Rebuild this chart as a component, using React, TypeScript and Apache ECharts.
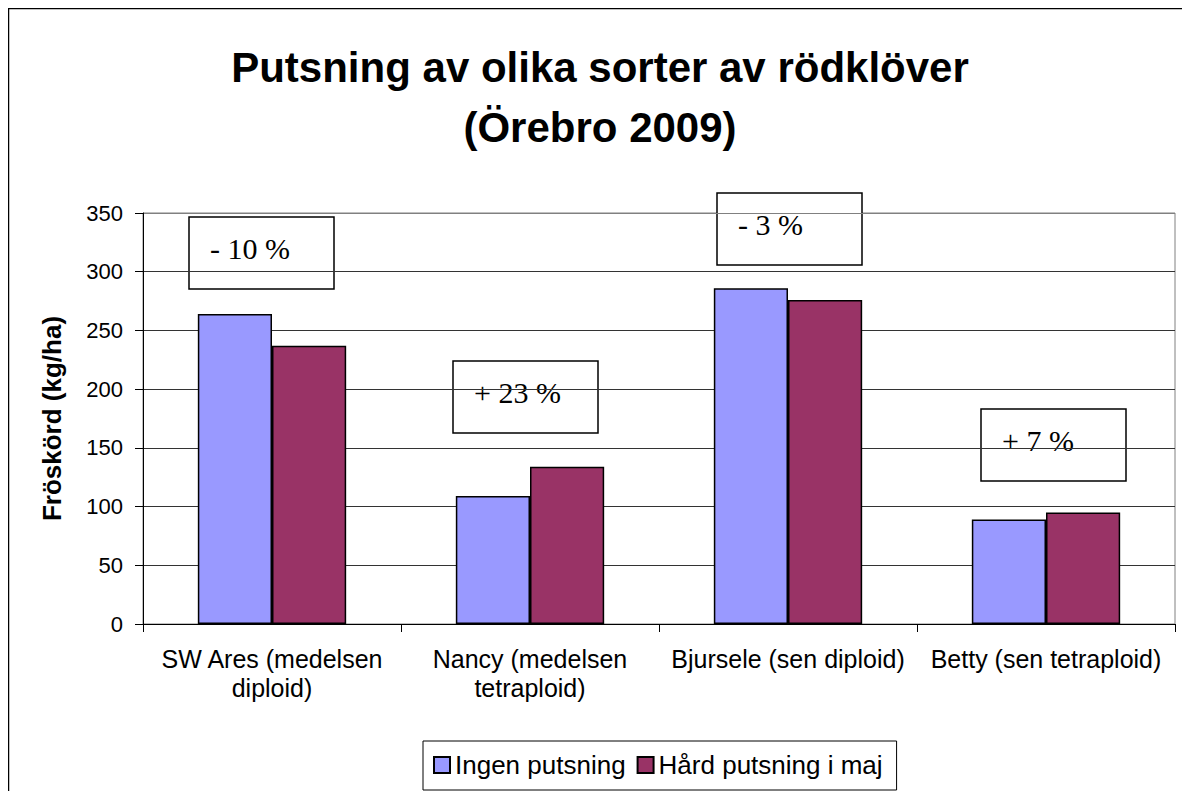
import React, { useEffect, useRef } from "react";
import * as echarts from "echarts";

const titleText = "Putsning av olika sorter av rödklöver\n(Örebro 2009)";
const categories = [
  "SW Ares (medelsen\ndiploid)",
  "Nancy (medelsen\ntetraploid)",
  "Bjursele (sen diploid)",
  "Betty (sen tetraploid)",
];
const seriesNames = ["Ingen putsning", "Hård putsning i maj"];
const ingenPutsning = [264, 109, 286, 89];
const hardPutsning = [237, 134, 276, 95];
const yAxisName = "Fröskörd (kg/ha)";
const annotationTexts = ["- 10 %", "+ 23 %", "- 3 %", "+ 7 %"];

// layout (pixel positions of the annotation boxes)
const boxPositions = [
  { x: 181, y: 209 },
  { x: 445, y: 353 },
  { x: 709, y: 185 },
  { x: 973, y: 401 },
];

const SANS = '"Liberation Sans", Arial, sans-serif';
const SERIF = '"Liberation Serif", "Times New Roman", serif';

export default function App() {
  const ref = useRef<HTMLDivElement>(null);
  useEffect(() => {
    if (!ref.current) return;
    const chart = echarts.init(ref.current, null, { renderer: "svg" });
    const boxes = annotationTexts.map((t, i) => ({
      type: "group",
      x: boxPositions[i].x,
      y: boxPositions[i].y,
      z: 100,
      children: [
        {
          type: "rect",
          shape: { x: 0, y: 0, width: 145, height: 72 },
          style: { fill: "#fff", stroke: "#000", lineWidth: 1.5 },
        },
        {
          type: "text",
          x: 21,
          y: 31,
          style: {
            text: t,
            fontSize: 30,
            fontFamily: SERIF,
            fill: "#000",
            align: "left",
            verticalAlign: "middle",
          },
        },
      ],
    }));
    chart.setOption({
      animation: false,
      backgroundColor: "#fff",
      title: {
        text: titleText,
        left: 592,
        top: 29,
        padding: 0,
        textAlign: "center",
        textStyle: {
          fontSize: 42,
          fontWeight: "bold",
          fontFamily: SANS,
          color: "#000",
          lineHeight: 60,
        },
      },
      legend: {
        data: seriesNames,
        left: 415,
        top: 733,
        orient: "horizontal",
        padding: [11, 14, 12, 10],
        borderColor: "#000",
        borderWidth: 1,
        itemWidth: 16,
        itemHeight: 16,
        itemGap: 11,
        icon: "rect",
        textStyle: { fontSize: 26, fontFamily: SANS, color: "#000" },
      },
      grid: {
        left: 135,
        top: 205,
        width: 1032,
        height: 411,
        show: true,
        borderColor: "#808080",
        borderWidth: 1,
        backgroundColor: "transparent",
        containLabel: false,
      },
      xAxis: {
        type: "category",
        data: categories,
        axisLine: { lineStyle: { color: "#000", width: 1 } },
        axisTick: { show: true, length: 8, lineStyle: { color: "#000" } },
        axisLabel: {
          fontSize: 25,
          fontFamily: SANS,
          color: "#000",
          lineHeight: 29,
          margin: 20,
          interval: 0,
        },
      },
      yAxis: {
        type: "value",
        min: 0,
        max: 350,
        interval: 50,
        name: yAxisName,
        nameLocation: "middle",
        nameRotate: 90,
        nameGap: 78,
        nameTextStyle: {
          fontSize: 26,
          fontWeight: "bold",
          fontFamily: SANS,
          color: "#000",
        },
        axisLine: { show: true, lineStyle: { color: "#000", width: 1 } },
        axisTick: { show: true, length: 8, lineStyle: { color: "#000" } },
        axisLabel: { fontSize: 22, fontFamily: SANS, color: "#000", margin: 20 },
        splitLine: {
          show: true,
          lineStyle: {
            color: ["#333", "#333", "#333", "#333", "#333", "#333", "#333", "#808080"],
            width: 1,
          },
        },
      },
      series: [
        {
          name: seriesNames[0],
          type: "bar",
          data: ingenPutsning,
          barGap: "0%",
          barCategoryGap: "42.5%",
          itemStyle: { color: "#9999FF", borderColor: "#000", borderWidth: 1.5 },
        },
        {
          name: seriesNames[1],
          type: "bar",
          data: hardPutsning,
          barGap: "0%",
          barCategoryGap: "42.5%",
          itemStyle: { color: "#993366", borderColor: "#000", borderWidth: 1.5 },
        },
      ],
      graphic: [
        {
          type: "rect",
          z: -10,
          shape: { x: 0.5, y: 0.5, width: 1400, height: 1000 },
          style: { fill: "none", stroke: "#000", lineWidth: 1.5 },
        },
        ...boxes,
      ],
    });
    return () => chart.dispose();
  }, []);
  return (
    <div
      ref={ref}
      style={{ position: "absolute", left: 8, top: 8, width: 1174, height: 783 }}
    />
  );
}
